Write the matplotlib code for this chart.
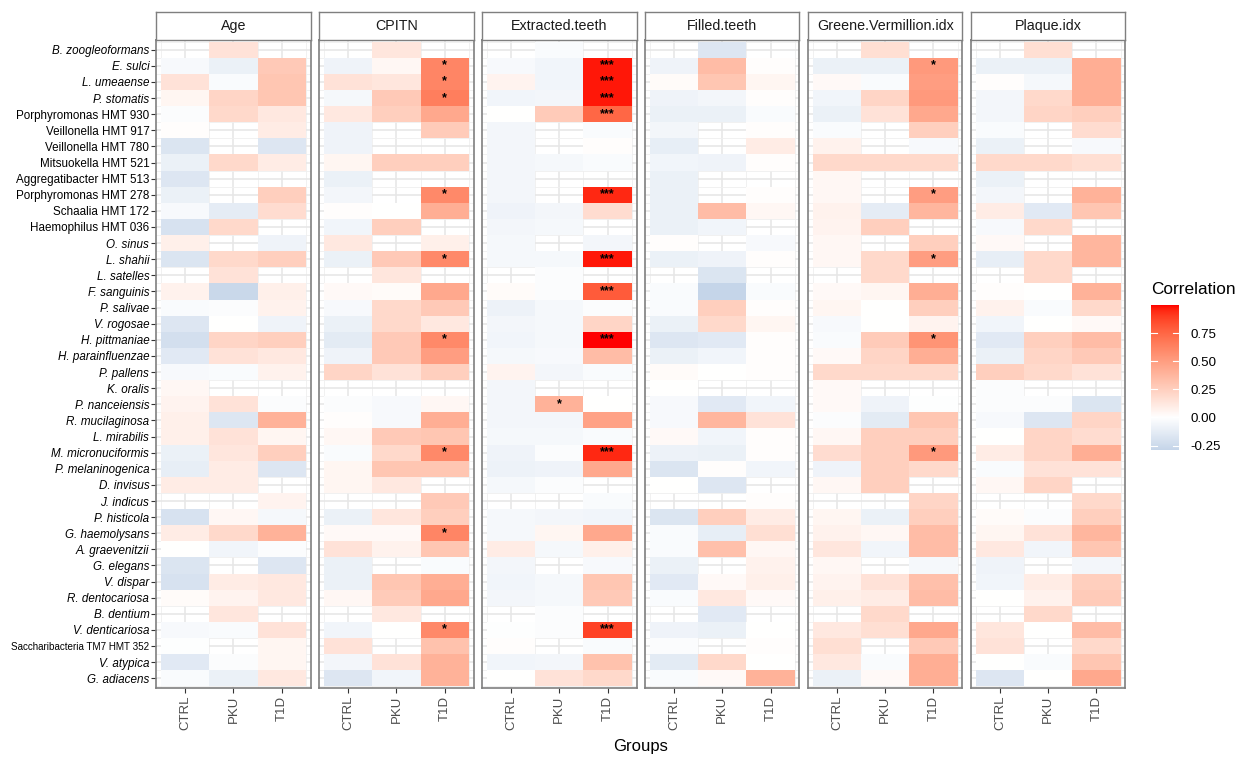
import numpy as np
import matplotlib
matplotlib.use("Agg")
import matplotlib.pyplot as plt
from matplotlib.colors import ListedColormap, Normalize

plt.rcParams['font.family'] = ['Liberation Sans', 'DejaVu Sans']

nan = np.nan

taxa = ["B. zoogleoformans", "E. sulci", "L. umeaense", "P. stomatis",
        "Porphyromonas HMT 930", "Veillonella HMT 917", "Veillonella HMT 780",
        "Mitsuokella HMT 521", "Aggregatibacter HMT 513", "Porphyromonas HMT 278",
        "Schaalia HMT 172", "Haemophilus HMT 036", "O. sinus", "L. shahii",
        "L. satelles", "F. sanguinis", "P. salivae", "V. rogosae", "H. pittmaniae",
        "H. parainfluenzae", "P. pallens", "K. oralis", "P. nanceiensis",
        "R. mucilaginosa", "L. mirabilis", "M. micronuciformis", "P. melaninogenica",
        "D. invisus", "J. indicus", "P. histicola", "G. haemolysans",
        "A. graevenitzii", "G. elegans", "V. dispar", "R. dentocariosa",
        "B. dentium", "V. denticariosa", "Saccharibacteria TM7 HMT 352",
        "V. atypica", "G. adiacens"]

groups = ["CTRL", "PKU", "T1D"]
facets = ["Age", "CPITN", "Extracted.teeth", "Filled.teeth",
          "Greene.Vermillion.idx", "Plaque.idx"]

# rows: CTRL, PKU, T1D
age = [
    [nan, 0.15, nan], [-0.04, -0.10, 0.28], [0.15, -0.03, 0.30], [0.05, 0.22, 0.30],
    [-0.02, 0.20, 0.12], [0.01, nan, 0.10], [-0.18, nan, -0.17], [-0.10, 0.20, 0.10],
    [-0.17, nan, nan], [-0.10, nan, 0.25], [-0.04, -0.13, 0.18], [-0.20, 0.20, nan],
    [0.08, nan, -0.08], [-0.18, 0.20, 0.25], [nan, 0.15, nan], [0.07, -0.27, 0.08],
    [-0.03, -0.02, 0.07], [-0.17, 0.00, -0.08], [-0.22, 0.22, 0.25], [-0.15, 0.15, 0.12],
    [-0.04, -0.03, 0.07], [0.04, nan, nan], [0.06, 0.15, -0.02], [0.08, -0.17, 0.40],
    [0.08, 0.15, 0.05], [-0.10, 0.13, 0.25], [-0.12, 0.10, -0.17], [0.10, 0.10, nan],
    [nan, nan, 0.06], [-0.20, 0.04, -0.05], [0.10, 0.20, 0.40], [0.00, -0.07, -0.02],
    [-0.18, nan, -0.17], [-0.20, 0.10, 0.12], [0.02, 0.06, 0.12], [nan, 0.13, nan],
    [-0.04, -0.03, 0.15], [-0.01, nan, 0.05], [-0.15, -0.02, 0.05], [-0.03, -0.10, 0.12]]

cpitn = [
    [nan, 0.13, nan], [-0.08, 0.04, 0.62], [0.15, 0.13, 0.62], [-0.05, 0.28, 0.65],
    [0.12, 0.25, 0.45], [-0.08, nan, 0.27], [-0.08, nan, nan], [0.05, 0.25, 0.25],
    [-0.10, nan, nan], [-0.06, nan, 0.60], [0.01, 0.00, 0.42], [-0.07, 0.25, nan],
    [0.12, nan, 0.08], [-0.10, 0.28, 0.60], [nan, 0.13, nan], [0.03, 0.02, 0.45],
    [-0.04, 0.20, 0.28], [-0.10, 0.20, 0.12], [-0.14, 0.28, 0.60], [-0.08, 0.28, 0.50],
    [0.22, 0.15, 0.25], [nan, nan, nan], [-0.02, -0.04, 0.04], [0.01, -0.04, 0.42],
    [0.04, 0.28, 0.30], [-0.03, 0.20, 0.60], [0.05, 0.30, 0.30], [0.05, 0.12, nan],
    [nan, nan, 0.28], [-0.10, 0.13, 0.25], [0.03, 0.03, 0.62], [0.15, 0.07, 0.30],
    [-0.10, nan, -0.03], [-0.10, 0.30, 0.42], [0.04, 0.27, 0.45], [nan, 0.12, nan],
    [-0.07, 0.00, 0.60], [0.15, nan, 0.32], [-0.06, 0.15, 0.40], [-0.17, -0.07, 0.40]]

extracted = [
    [nan, -0.03, nan], [-0.04, -0.07, 0.98], [0.06, -0.07, 0.98], [-0.07, -0.06, 0.98],
    [0.00, 0.27, 0.75], [-0.06, nan, -0.03], [-0.06, nan, 0.01], [-0.06, -0.05, -0.03],
    [-0.06, nan, nan], [-0.06, nan, 0.95], [-0.08, -0.06, 0.18], [-0.06, -0.05, nan],
    [-0.05, nan, -0.06], [-0.05, -0.05, 0.98], [nan, -0.02, nan], [0.02, -0.02, 0.80],
    [-0.09, -0.05, -0.02], [-0.06, -0.05, 0.22], [-0.07, -0.05, 1.00], [-0.05, -0.04, 0.35],
    [0.06, -0.06, -0.03], [-0.06, nan, nan], [-0.06, 0.40, 0.00], [-0.06, -0.06, 0.48],
    [-0.05, -0.05, -0.03], [-0.08, -0.02, 0.95], [-0.09, -0.08, 0.45], [-0.05, -0.02, nan],
    [nan, nan, -0.03], [-0.05, -0.06, -0.07], [-0.05, 0.05, 0.45], [0.10, -0.05, 0.08],
    [-0.06, nan, -0.04], [-0.07, -0.05, 0.30], [-0.06, -0.05, 0.28], [nan, -0.02, nan],
    [-0.01, -0.02, 0.88], [0.01, nan, -0.03], [-0.07, -0.06, 0.32], [0.00, 0.15, 0.20]]

filled = [
    [nan, -0.17, nan], [-0.08, 0.35, 0.01], [0.02, 0.30, 0.05], [-0.08, -0.06, 0.01],
    [-0.10, -0.10, -0.03], [-0.06, nan, 0.01], [-0.12, nan, 0.10], [-0.07, -0.08, 0.01],
    [-0.10, nan, nan], [-0.10, nan, 0.01], [-0.10, 0.35, 0.04], [-0.10, -0.07, nan],
    [0.01, nan, -0.04], [-0.10, -0.08, 0.01], [nan, -0.18, nan], [-0.03, -0.29, -0.03],
    [-0.03, 0.25, 0.01], [-0.10, 0.20, 0.05], [-0.17, -0.15, 0.01], [-0.10, -0.07, 0.01],
    [0.02, 0.00, 0.01], [0.00, nan, nan], [-0.04, -0.15, -0.07], [-0.04, 0.38, 0.15],
    [0.03, -0.07, 0.01], [-0.09, -0.10, 0.01], [-0.18, 0.01, -0.07], [0.00, -0.17, nan],
    [nan, nan, 0.01], [-0.18, 0.25, 0.10], [-0.03, -0.12, 0.17], [-0.03, 0.33, 0.04],
    [-0.10, nan, 0.07], [-0.15, 0.03, 0.08], [-0.03, 0.12, 0.03], [nan, -0.15, nan],
    [-0.08, -0.10, 0.00], [-0.02, nan, 0.01], [-0.14, 0.20, 0.00], [-0.03, 0.03, 0.40]]

greene = [
    [nan, 0.17, nan], [-0.10, -0.10, 0.52], [0.03, -0.03, 0.50], [-0.07, 0.22, 0.52],
    [-0.10, 0.15, 0.45], [-0.03, nan, 0.25], [0.07, nan, -0.04], [0.20, 0.20, 0.20],
    [0.04, nan, nan], [0.04, nan, 0.50], [0.07, -0.13, 0.38], [0.06, 0.25, nan],
    [0.04, nan, 0.25], [0.04, 0.20, 0.50], [nan, 0.20, nan], [0.03, 0.05, 0.42],
    [0.05, 0.00, 0.25], [-0.04, 0.00, 0.06], [-0.03, 0.27, 0.55], [0.03, 0.22, 0.42],
    [0.20, 0.20, 0.20], [0.03, nan, nan], [0.03, -0.08, -0.01], [-0.02, -0.14, 0.30],
    [0.04, 0.25, 0.25], [0.18, 0.25, 0.52], [-0.08, 0.25, 0.20], [0.04, 0.25, nan],
    [nan, nan, 0.22], [0.05, -0.10, 0.25], [0.07, 0.04, 0.35], [0.13, -0.07, 0.35],
    [0.04, nan, -0.05], [0.06, 0.15, 0.33], [0.08, 0.10, 0.35], [nan, 0.20, nan],
    [0.12, 0.17, 0.45], [0.17, nan, 0.28], [0.12, -0.03, 0.42], [-0.10, 0.03, 0.42]]

plaque = [
    [nan, 0.17, nan], [-0.10, -0.10, 0.42], [0.01, -0.05, 0.42], [-0.06, 0.20, 0.42],
    [-0.06, 0.22, 0.25], [-0.03, nan, 0.18], [-0.10, nan, -0.04], [0.20, 0.20, 0.17],
    [-0.10, nan, nan], [-0.06, nan, 0.40], [0.10, -0.15, 0.30], [-0.04, 0.20, nan],
    [0.03, nan, 0.38], [-0.12, 0.20, 0.38], [nan, 0.20, nan], [0.01, 0.00, 0.40],
    [0.07, -0.03, 0.20], [-0.07, 0.00, 0.03], [-0.15, 0.25, 0.35], [-0.10, 0.22, 0.28],
    [0.25, 0.20, 0.15], [-0.02, nan, nan], [-0.02, -0.02, -0.18], [-0.04, -0.17, 0.22],
    [0.00, 0.22, 0.18], [0.10, 0.22, 0.42], [-0.03, 0.15, 0.15], [0.04, 0.22, nan],
    [nan, nan, 0.20], [0.02, -0.02, 0.25], [0.05, 0.15, 0.38], [0.12, -0.07, 0.30],
    [-0.08, nan, -0.06], [-0.07, 0.10, 0.25], [0.00, 0.07, 0.27], [nan, 0.20, nan],
    [0.13, 0.00, 0.35], [0.15, nan, 0.20], [0.00, -0.03, 0.30], [-0.17, 0.00, 0.45]]

# significance labels (row indices into taxa)
stars_cpitn = [1, 2, 3, 9, 13, 18, 25, 30, 36]
stars_extracted_t1d = [1, 2, 3, 4, 9, 13, 15, 18, 25, 36]
stars_extracted_pku = [22]
stars_greene = [1, 9, 13, 18, 25]

panel_data = [age, cpitn, extracted, filled, greene, plaque]
signif = {
    1: [(r, 2, "*") for r in stars_cpitn],
    2: [(r, 2, "***") for r in stars_extracted_t1d] + [(r, 1, "*") for r in stars_extracted_pku],
    4: [(r, 2, "*") for r in stars_greene],
}

# ---------- colour scale (ggplot gradient2-like) ----------
def srgb_to_lab(rgb):
    c = np.asarray(rgb, float) / 255.0
    c = np.where(c <= 0.04045, c / 12.92, ((c + 0.055) / 1.055) ** 2.4)
    M = np.array([[0.4124, 0.3576, 0.1805], [0.2126, 0.7152, 0.0722], [0.0193, 0.1192, 0.9505]])
    xyz = M @ c
    wp = np.array([0.95047, 1.0, 1.08883])
    t = xyz / wp
    f = np.where(t > (6 / 29) ** 3, np.cbrt(t), t / (3 * (6 / 29) ** 2) + 4 / 29)
    return np.array([116 * f[1] - 16, 500 * (f[0] - f[1]), 200 * (f[1] - f[2])])

def lab_to_srgb(lab):
    L, a, b = lab
    fy = (L + 16) / 116
    fx = fy + a / 500
    fz = fy - b / 200
    f = np.array([fx, fy, fz])
    t = np.where(f > 6 / 29, f ** 3, 3 * (6 / 29) ** 2 * (f - 4 / 29))
    xyz = t * np.array([0.95047, 1.0, 1.08883])
    Minv = np.array([[3.2406, -1.5372, -0.4986], [-0.9689, 1.8758, 0.0415], [0.0557, -0.2040, 1.0570]])
    c = Minv @ xyz
    c = np.where(c <= 0.0031308, 12.92 * c, 1.055 * np.clip(c, 0, None) ** (1 / 2.4) - 0.055)
    return np.clip(c, 0, 1)

white_lab = srgb_to_lab([255, 255, 255])
red_lab = srgb_to_lab([255, 0, 0])
low_rgb = np.array([55, 110, 179]) / 255.0
N = 512
cols = []
for v in np.linspace(-1, 1, N):
    if v >= 0:
        cols.append(lab_to_srgb(white_lab + v * (red_lab - white_lab)))
    else:
        cols.append(np.ones(3) + (-v) * (low_rgb - np.ones(3)))
cmap = ListedColormap(np.array(cols))
cmap.set_bad((1, 1, 1, 0))

allvals = np.array(panel_data, float)
dmin, dmax = np.nanmin(allvals), np.nanmax(allvals)
vabs = max(abs(dmin), abs(dmax))
norm = Normalize(-vabs, vabs)

# ---------- layout ----------
W, H = 1244, 765
fig = plt.figure(figsize=(W / 100, H / 100), dpi=100)
fig.patch.set_facecolor("white")

def fr(x0, y0, w, h):
    return [x0 / W, 1 - (y0 + h) / H, w / W, h / H]

left0, step, pw = 156.3, 162.95, 154.3
ptop, pbot = 40.0, 688.0
strip_top = 12.0
nrow = len(taxa)
grid_col = "#E6E6E6"
border_col = "#7F7F7F"

for k, (name, data) in enumerate(zip(facets, panel_data)):
    x0 = left0 + k * step
    ax = fig.add_axes(fr(x0, ptop, pw, pbot - ptop))
    arr = np.ma.masked_invalid(np.array(data, float))
    ax.pcolormesh(np.arange(4) - 0.5, np.arange(nrow + 1) - 0.5, arr,
                  cmap=cmap, norm=norm, shading="flat", zorder=2, antialiased=False,
                  edgecolors="none")
    ax.set_xlim(-0.6, 2.6)
    ax.set_ylim(nrow - 0.4, -0.6)
    ax.set_xticks(range(3))
    ax.set_xticks(np.arange(-0.5, 3, 1), minor=True)
    ax.set_yticks(range(nrow))
    ax.set_yticks(np.arange(-0.5, nrow, 1), minor=True)
    ax.set_axisbelow(True)
    ax.grid(True, which="major", color=grid_col, linewidth=1.1, zorder=0)
    ax.grid(True, which="minor", color="#EFEFEF", linewidth=0.6, zorder=0)
    ax.tick_params(which="minor", length=0)
    ax.set_xticklabels(groups, rotation=90, fontsize=9.5, color="#4D4D4D")
    ax.tick_params(axis="x", which="major", length=3.5, width=0.8, color="#333333", pad=2)
    if k == 0:
        ax.set_yticklabels(taxa, fontsize=8.4, color="black")
        ax.tick_params(axis="y", which="major", length=3.5, width=0.8, color="#333333", pad=1.5)
        for lab in ax.get_yticklabels():
            t = lab.get_text()
            if ". " in t:
                lab.set_fontstyle("italic")
            if t.startswith("Saccharibacteria"):
                lab.set_fontsize(7.1)
    else:
        ax.set_yticklabels([])
        ax.tick_params(axis="y", which="major", length=0)
    for sp in ax.spines.values():
        sp.set_color(border_col)
        sp.set_linewidth(1.2)
        sp.set_zorder(5)
    for (r, g, lab) in signif.get(k, []):
        ax.text(g, r - 0.02, lab, ha="center", va="center", fontsize=9,
                fontweight="bold", color="black", zorder=4)
    # strip
    sax = fig.add_axes(fr(x0, strip_top, pw, ptop - strip_top))
    sax.set_xticks([]); sax.set_yticks([])
    sax.set_facecolor("white")
    for sp in sax.spines.values():
        sp.set_color(border_col)
        sp.set_linewidth(1.0)
    sax.text(0.5, 0.5, name, ha="center", va="center", fontsize=10.3,
             color="#1A1A1A", transform=sax.transAxes)

fig.text((left0 + 5 * step + pw + left0) / 2 / W, 1 - 747 / H, "Groups",
         ha="center", va="center", fontsize=12, color="black")

# ---------- colour bar ----------
cb_x, cb_y0, cb_w, cb_y1 = 1151, 305, 28, 450
cax = fig.add_axes(fr(cb_x, cb_y0, cb_w, cb_y1 - cb_y0))
grad = np.linspace(dmin, dmax, 300)[:, None]
cax.imshow(grad, extent=[0, 1, dmin, dmax], origin="lower", aspect="auto",
           cmap=cmap, norm=norm, interpolation="bilinear")
cax.set_xlim(0, 1)
cax.set_ylim(dmin, dmax)
cb_ticks = [-0.25, 0.0, 0.25, 0.5, 0.75]
cax.set_xticks([])
cax.yaxis.tick_right()
cax.set_yticks(cb_ticks)
cax.set_yticklabels(["-0.25", "0.00", "0.25", "0.50", "0.75"], fontsize=9.6, color="black")
cax.tick_params(axis="y", length=0, pad=8)
for t in cb_ticks:
    cax.plot([0, 0.2], [t, t], color="white", lw=0.8)
    cax.plot([0.8, 1], [t, t], color="white", lw=0.8)
for sp in cax.spines.values():
    sp.set_visible(False)
fig.text(cb_x / W, 1 - 289 / H, "Correlation", ha="left", va="center",
         fontsize=12.4, color="black")

fig.savefig("out.png", dpi=100)
